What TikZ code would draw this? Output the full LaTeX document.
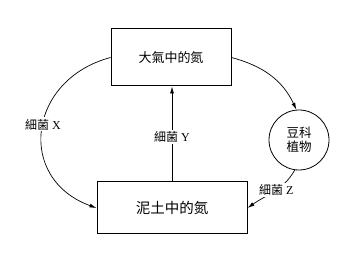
\documentclass[tikz,border=0pt]{standalone}
\usepackage{fontspec}
\setmainfont{Liberation Serif}
\newfontfamily\cjk{Noto Sans CJK TC}
\usetikzlibrary{arrows.meta}
\tikzset{
  pool/.style={draw,line width=1pt,inner sep=0pt,font=\cjk\fontsize{13}{15}\selectfont},
  plant/.style={draw,circle,line width=0.8pt,minimum size=60pt,inner sep=0pt,align=center,font=\cjk\fontsize{12.5}{15}\selectfont},
  flow/.style={-{Latex[length=7pt,width=4pt]},line width=0.7pt},
  lbl/.style={fill=white,inner sep=1.5pt,font=\fontsize{12}{14}\selectfont}}

\begin{document}
\begin{tikzpicture}[x=1pt,y=1pt]
  \useasboundingbox (0,0) rectangle (354,262);
  \node[pool,minimum width=120pt,minimum height=57pt] (air) at (171,204.5) {大氣中的氮};
  \node[pool,minimum width=150pt,minimum height=52pt,font=\cjk\fontsize{14.5}{16}\selectfont] (soil) at (172,54) {泥土中的氮};
  \node[plant] (legume) at (299,122) {豆科\\[-1pt]植物};
  \draw[flow] (air.west) to[out=195,in=160,looseness=1.45] node[lbl,pos=0.47]{{\cjk 細菌} X} (soil.west);
  \draw[flow] (soil.north) -- node[lbl,pos=0.47]{{\cjk 細菌} Y} (soil.north |- air.south);
  \draw[flow] (air.east) to[out=-15,in=115] (legume.95);
  \draw[flow] (legume.262) to[out=240,in=35] node[lbl,pos=0.45]{{\cjk 細菌} Z} (soil.east);
\end{tikzpicture}
\end{document}
